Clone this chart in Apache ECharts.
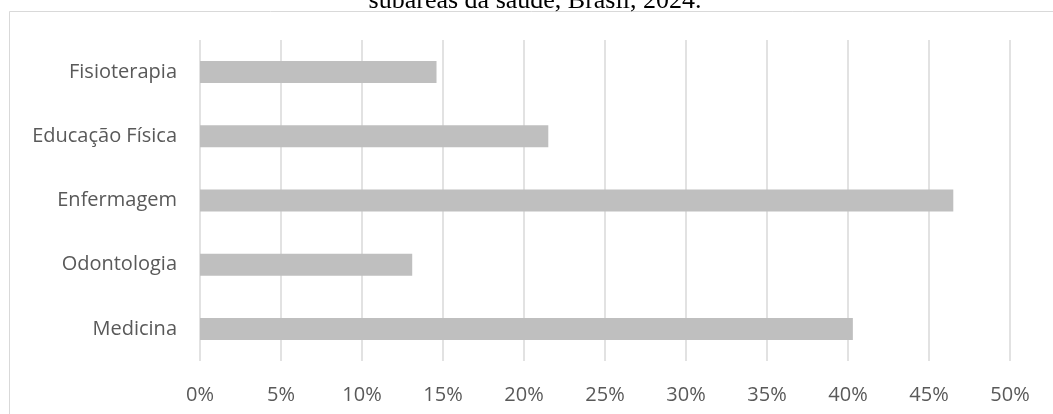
<!DOCTYPE html>
<html>
<head>
<meta charset="utf-8">
<script src="https://cdn.jsdelivr.net/npm/echarts@6/dist/echarts.min.js"></script>
<style>
html,body{margin:0;padding:0;background:#fff;}
#chart{width:1053px;height:414px;}
</style>
</head>
<body>
<div id="chart"></div>
<script>
const titleText = 'subáreas da saúde, Brasil, 2024.';
const categories = ['Fisioterapia', 'Educação Física', 'Enfermagem', 'Odontologia', 'Medicina'];
const values = [14.6, 21.5, 46.5, 13.1, 40.3];
const axisMin = 0;
const axisMax = 50;
const axisStep = 5;

const chart = echarts.init(document.getElementById('chart'), null, {renderer: 'canvas'});
chart.setOption({
  animation: false,
  backgroundColor: '#ffffff',
  graphic: [
    {
      type: 'rect',
      shape: {x: 9.5, y: 11.5, width: 1100, height: 500},
      style: {fill: 'none', stroke: '#d9d9d9', lineWidth: 1},
      silent: true, z: 0
    },
    {
      type: 'text',
      x: 535, y: 14,
      style: {
        text: titleText,
        fontFamily: 'Liberation Serif',
        fontSize: 26,
        fill: '#000000',
        align: 'center',
        verticalAlign: 'bottom'
      },
      silent: true
    }
  ],
  grid: {left: 200, right: 43, top: 40, bottom: 53, containLabel: false},
  xAxis: {
    type: 'value',
    min: axisMin,
    max: axisMax,
    interval: axisStep,
    axisLine: {show: false},
    axisTick: {show: false},
    splitLine: {show: true, lineStyle: {color: '#d9d9d9', width: 1.5}},
    axisLabel: {
      formatter: '{value}%',
      color: '#595959',
      fontFamily: 'Open Sans',
      fontSize: 20,
      margin: 24
    }
  },
  yAxis: {
    type: 'category',
    data: categories,
    inverse: true,
    axisLine: {show: false},
    axisTick: {show: false},
    splitLine: {show: false},
    axisLabel: {
      color: '#595959',
      fontFamily: 'Open Sans',
      fontSize: 20,
      margin: 23
    }
  },
  series: [{
    type: 'bar',
    data: values,
    barWidth: 22,
    itemStyle: {color: '#bfbfbf'},
    silent: true
  }]
});
</script>
</body>
</html>
